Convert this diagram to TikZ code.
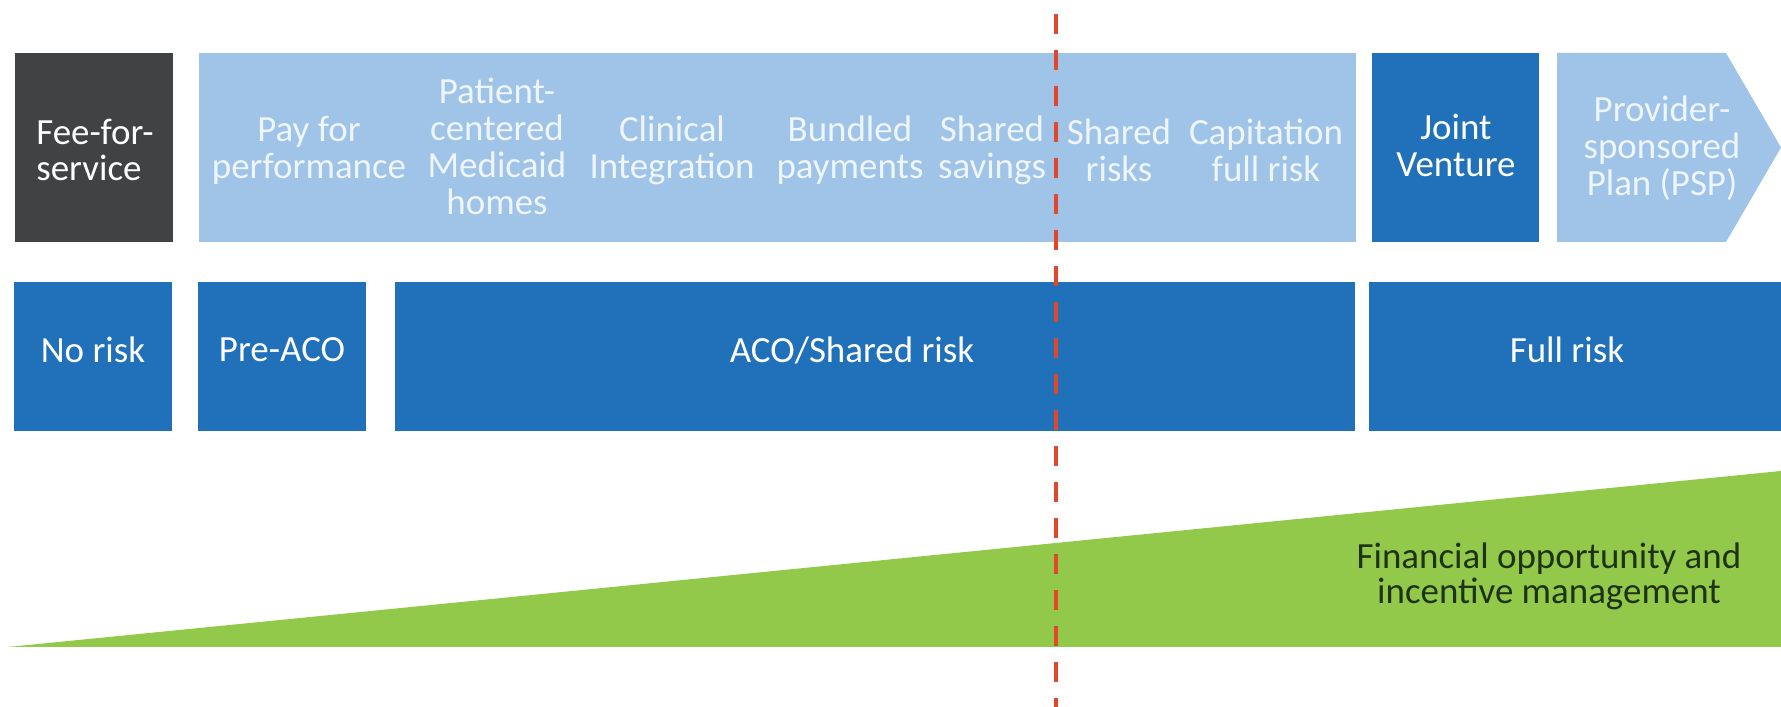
\documentclass[tikz,border=0pt]{standalone}
\usepackage{fontspec}
\setmainfont{Carlito}
\usetikzlibrary{fit}

\definecolor{feegray}{HTML}{414244}
\definecolor{bandblue}{HTML}{9FC4E7}
\definecolor{riskblue}{HTML}{2071BA}
\definecolor{oppgreen}{HTML}{92C94A}
\definecolor{cutred}{HTML}{E5462A}
\definecolor{textgreen}{HTML}{1E3316}
\definecolor{paleblue}{HTML}{EEF5FB}

\begin{document}
\begin{tikzpicture}
		[x=0.01cm, y=-0.01cm,
		tile/.style={inner sep=0pt, draw=none},
		steplabel/.style={inner sep=0pt, align=center, text=paleblue,
			font=\fontsize{10.5}{10.5}\selectfont},
		risklabel/.style={inner sep=0pt, text=white,
			font=\fontsize{10.5}{10.5}\selectfont},
		cutline/.style={draw=cutred, line width=1.3pt,
			dash pattern=on 0.2cm off 0.16cm}]
		\useasboundingbox (0,0) rectangle (1781,707);
		% payment models
		\node[tile, fill=feegray, fit={(15,53) (173,242)}] (fee) {};
		\node[tile, fill=bandblue, fit={(199,53) (1356,242)}] (band) {};
		\node[tile, fill=riskblue, fit={(1372,53) (1539,242)}] (jv) {};
		\fill[bandblue] (1557,53) -- (1726,53) -- (1781,147.5) -- (1726,242)
			-- (1557,242) -- cycle;
		\node[steplabel, text=white, align=left] (feetext) at (95,150) {Fee-for-\\service};
		\node[steplabel] (p4p) at (309,150) {Pay for\\performance};
		\node[steplabel] (pcmh) at (497,146) {Patient-\\centered\\Medicaid\\homes};
		\node[steplabel] (clin) at (672,150) {Clinical\\Integration};
		\node[steplabel] (bund) at (850,150) {Bundled\\payments};
		\node[steplabel] (ssav) at (992,150) {Shared\\savings};
		\node[steplabel] (srisk) at (1119,150) {Shared\\risks};
		\node[steplabel] (capit) at (1266,150) {Capitation\\full risk};
		\node[steplabel, text=white] (jvtext) at (1456,145) {Joint\\Venture};
		\node[steplabel] (psp) at (1662,148) {Provider-\\sponsored\\Plan (PSP)};
		% risk levels
		\node[tile, fill=riskblue, fit={(14,282) (172,431)}] (norisk) {};
		\node[tile, fill=riskblue, fit={(198,282) (366,431)}] (preaco) {};
		\node[tile, fill=riskblue, fit={(395,282) (1355,431)}] (aco) {};
		\node[tile, fill=riskblue, fit={(1369,282) (1781,431)}] (fullrisk) {};
		\node[risklabel] at (93,350) {No risk};
		\node[risklabel] at (282,350) {Pre-ACO};
		\node[risklabel] at (852,350) {ACO/Shared risk};
		\node[risklabel] at (1567,350) {Full risk};
		% financial opportunity wedge
		\fill[oppgreen] (8,647) -- (1781,471) -- (1781,647) -- cycle;
		\node[inner sep=0pt, align=center, text=textgreen,
			font=\fontsize{10.5}{10}\selectfont] (opp) at (1549,576)
			{Financial opportunity and\\incentive management};
		% today
		\coordinate (cuttop) at (1056,14);
		\coordinate (cutbot) at (1056,707);
		\draw[cutline] (cuttop) -- (cutbot);
	\end{tikzpicture}
\end{document}
